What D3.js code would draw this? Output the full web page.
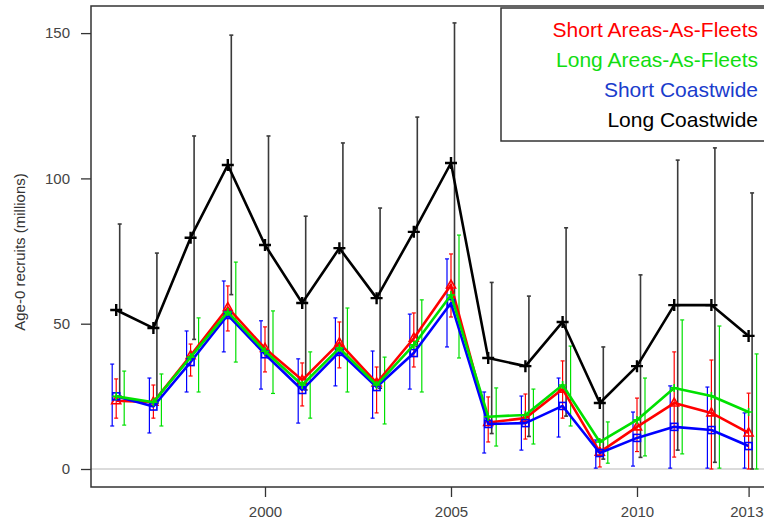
<!DOCTYPE html>
<html>
<head>
<meta charset="utf-8">
<script src="https://cdn.jsdelivr.net/npm/d3@7"></script>
<style>
  body { margin: 0; background: #fff; }
  svg { display: block; font-family: "Liberation Sans", Arial, sans-serif; }
</style>
</head>
<body>
<div id="chart"></div>
<script>
// years on the x axis
const years = [1996, 1997, 1998, 1999, 2000, 2001, 2002, 2003, 2004, 2005,
  2006, 2007, 2008, 2009, 2010, 2011, 2012, 2013];
const xTicks = [2000, 2005, 2010, 2013];
const yTicks = [0, 50, 100, 150];

// Long Coastwide (black)
const longCoast = [54.7, 48.5, 79.6, 104.6, 77.1, 57.1, 76, 58.8, 81.6, 105.3, 38.2, 35.4, 50.6, 22.7, 35.4, 56.4, 56.4, 45.8];
const longCoastHi = [84.3, 74.3, 114.6, 149.3, 114.6, 87, 112.2, 89.8, 121.1, 153.5, 64.2, 59.5, 83, 42, 66.8, 106.3, 110.5, 95];
const longCoastLo = [25.1, 22.7, 44.6, 60, 39.6, 27.2, 39.8, 27.8, 42.1, 57, 12.2, 11.2, 18.2, 3.4, 4, 6.5, 2.3, 0];

// Short Areas-As-Fleets (red)
const shortAAF = [23.5, 23, 39, 55.5, 41.5, 30.6, 43.4, 29.6, 45, 63.3, 16, 17.5, 27.5, 5.8, 14.5, 22.7, 19.3, 12.4];
const shortAAFHi = [31, 28.9, 43, 63, 48.9, 36.5, 50.6, 35.1, 53.7, 74, 24.8, 25.8, 37.2, 10, 24.4, 40.3, 37.5, 26.1];
const shortAAFLo = [17.5, 17.5, 32, 47.5, 33.4, 21.7, 34.8, 19.3, 35.1, 52.3, 9.3, 10.3, 17.5, 0.7, 6, 4.1, 0, 0];

// Long Areas-As-Fleets (green)
const longAAF = [25, 23, 38.5, 54, 40.5, 28.9, 41.6, 28.9, 42.7, 59.9, 18, 18.6, 28.9, 9.3, 16.9, 27.9, 25.1, 19.6];
const longAAFHi = [33.7, 32.7, 52, 71.2, 54.4, 40.3, 55.4, 38.5, 58.2, 80.5, 27.9, 27.5, 42.3, 16.2, 31.3, 51.3, 49.2, 39.6];
const longAAFLo = [15.1, 14.8, 26.5, 36.8, 26, 17.5, 26.5, 15.5, 26.5, 38.2, 7.9, 8.6, 14.8, 2, 4.5, 5.2, 0.3, 0];

// Short Coastwide (blue)
const shortCoast = [25, 21.5, 36.8, 53, 39.5, 27.2, 40.3, 28.2, 39.9, 57.1, 15.5, 15.8, 21.7, 5.5, 10.7, 14.5, 13.4, 7.9];
const shortCoastHi = [36.1, 31.3, 47.5, 64.7, 51, 37.9, 52, 40.6, 53.3, 72.3, 26.5, 25.1, 31.3, 10, 19.6, 28.6, 28.2, 19.3];
const shortCoastLo = [14.8, 12.4, 26.5, 40.3, 27.5, 15.8, 28.6, 17.5, 27.5, 42, 5.5, 6.5, 11, 0.3, 1, 0.3, 0.3, 0.3];

const legendLabels = ['Short Areas-As-Fleets', 'Long Areas-As-Fleets', 'Short Coastwide', 'Long Coastwide'];

const width = 764;
const height = 527;
const box = { left: 91, top: 6, right: 780, bottom: 487 };

const svg = d3.select('#chart').append('svg')
  .attr('width', width)
  .attr('height', height);

const x = d3.scaleLinear()
  .domain([1996, 2013])
  .range([116.2, 748.6]);

const y = d3.scaleLinear()
  .domain([0, 150])
  .range([469, 33.1]);

// zero reference line
svg.append('line')
  .attr('x1', box.left).attr('x2', box.right)
  .attr('y1', y(0)).attr('y2', y(0))
  .attr('stroke', '#cfcfcf')
  .attr('stroke-width', 1.5);

// series, in drawing order; dx is the error-bar nudge
const series = [
  { name: 'long', vals: longCoast, hi: longCoastHi, lo: longCoastLo, color: '#000', bar: '#3a3a3a', dx: 3.5, marker: 'plus', r: 6 },
  { name: 'shortAAF', vals: shortAAF, hi: shortAAFHi, lo: shortAAFLo, color: '#ff0000', bar: '#ff0000', dx: 0, marker: 'triangle', r: 5 },
  { name: 'shortCoast', vals: shortCoast, hi: shortCoastHi, lo: shortCoastLo, color: '#0000ff', bar: '#0000ff', dx: -4, marker: 'square', r: 3.5 },
  { name: 'longAAF', vals: longAAF, hi: longAAFHi, lo: longAAFLo, color: '#00e000', bar: '#00e000', dx: 8, marker: 'plus', r: 4 },
];

// error bars first
series.forEach(s => {
  const g = svg.append('g').attr('class', 'err-' + s.name)
    .attr('stroke', s.bar)
    .attr('stroke-width', s.name === 'long' ? 1.6 : 1.2);
  years.forEach((yr, i) => {
    const bx = x(yr) + s.dx;
    g.append('line')
      .attr('x1', bx).attr('x2', bx)
      .attr('y1', y(s.lo[i])).attr('y2', y(s.hi[i]));
    [s.lo[i], s.hi[i]].forEach(v => {
      g.append('line')
        .attr('x1', bx - 2).attr('x2', bx + 2)
        .attr('y1', y(v)).attr('y2', y(v));
    });
  });
});

const line = d3.line()
  .x((d, i) => x(years[i]))
  .y(d => y(d));

series.forEach(s => {
  svg.append('path')
    .datum(s.vals)
    .attr('fill', 'none')
    .attr('stroke', s.color)
    .attr('stroke-width', 2.6)
    .attr('stroke-linejoin', 'round')
    .attr('d', line);

  const mg = svg.append('g')
    .attr('fill', 'none')
    .attr('stroke', s.color)
    .attr('stroke-width', s.name === 'long' ? 2.4 : 1.6);
  s.vals.forEach((v, i) => {
    const px = x(years[i]);
    const py = y(v);
    const r = s.r;
    if (s.marker === 'plus') {
      mg.append('path').attr('d', `M${px - r},${py}H${px + r}M${px},${py - r}V${py + r}`);
    } else if (s.marker === 'triangle') {
      mg.append('path').attr('d', `M${px},${py - r}L${px + r * 0.9},${py + r * 0.6}L${px - r * 0.9},${py + r * 0.6}Z`);
    } else {
      mg.append('rect').attr('x', px - r).attr('y', py - r)
        .attr('width', 2 * r).attr('height', 2 * r);
    }
  });
});

// frame
svg.append('rect')
  .attr('x', box.left).attr('y', box.top)
  .attr('width', box.right - box.left)
  .attr('height', box.bottom - box.top)
  .attr('fill', 'none')
  .attr('stroke', '#333')
  .attr('stroke-width', 1.5);

// y axis
const yAxis = svg.append('g')
  .attr('transform', `translate(${box.left - 10},0)`)
  .call(d3.axisLeft(y).tickValues(yTicks).tickSize(0).tickPadding(0).tickFormat(d3.format('d')));
yAxis.select('.domain').remove();
yAxis.selectAll('.tick line').remove();
yAxis.selectAll('.tick').append('line')
  .attr('x1', 0).attr('x2', 10)
  .attr('stroke', '#333').attr('stroke-width', 1.3);
yAxis.selectAll('.tick text')
  .attr('x', -11)
  .attr('fill', '#444')
  .style('font-size', '15px');

// x axis
const xAxis = svg.append('g')
  .attr('transform', `translate(0,${box.bottom})`)
  .call(d3.axisBottom(x).tickValues(xTicks).tickSize(10).tickPadding(0).tickFormat(d3.format('d')));
xAxis.select('.domain').remove();
xAxis.selectAll('.tick line').attr('stroke', '#333').attr('stroke-width', 1.3);
xAxis.selectAll('.tick text')
  .attr('y', 25)
  .attr('dy', '0.32em')
  .attr('fill', '#444')
  .style('font-size', '15px');
// keep the last label inside the window
xAxis.selectAll('.tick text')
  .filter(d => d === 2013)
  .attr('text-anchor', 'end')
  .attr('x', width - 1 - x(2013));

// y label
svg.append('text')
  .attr('transform', `translate(25,252) rotate(-90)`)
  .attr('text-anchor', 'middle')
  .attr('fill', '#333')
  .style('font-size', '15px')
  .text('Age-0 recruits (millions)');

// legend
const legend = svg.append('g');
legend.append('rect')
  .attr('x', 501).attr('y', 8)
  .attr('width', 300).attr('height', 133)
  .attr('fill', '#fff')
  .attr('stroke', '#333')
  .attr('stroke-width', 1.5);
const legendColors = ['#ff0000', '#11dd11', '#1a3ccc', '#000'];
legendLabels.forEach((lab, i) => {
  legend.append('text')
    .attr('x', 758)
    .attr('y', 30 + i * 30)
    .attr('dy', '0.35em')
    .attr('text-anchor', 'end')
    .attr('fill', legendColors[i])
    .style('font-size', '21px')
    .text(lab);
});
</script>
</body>
</html>
